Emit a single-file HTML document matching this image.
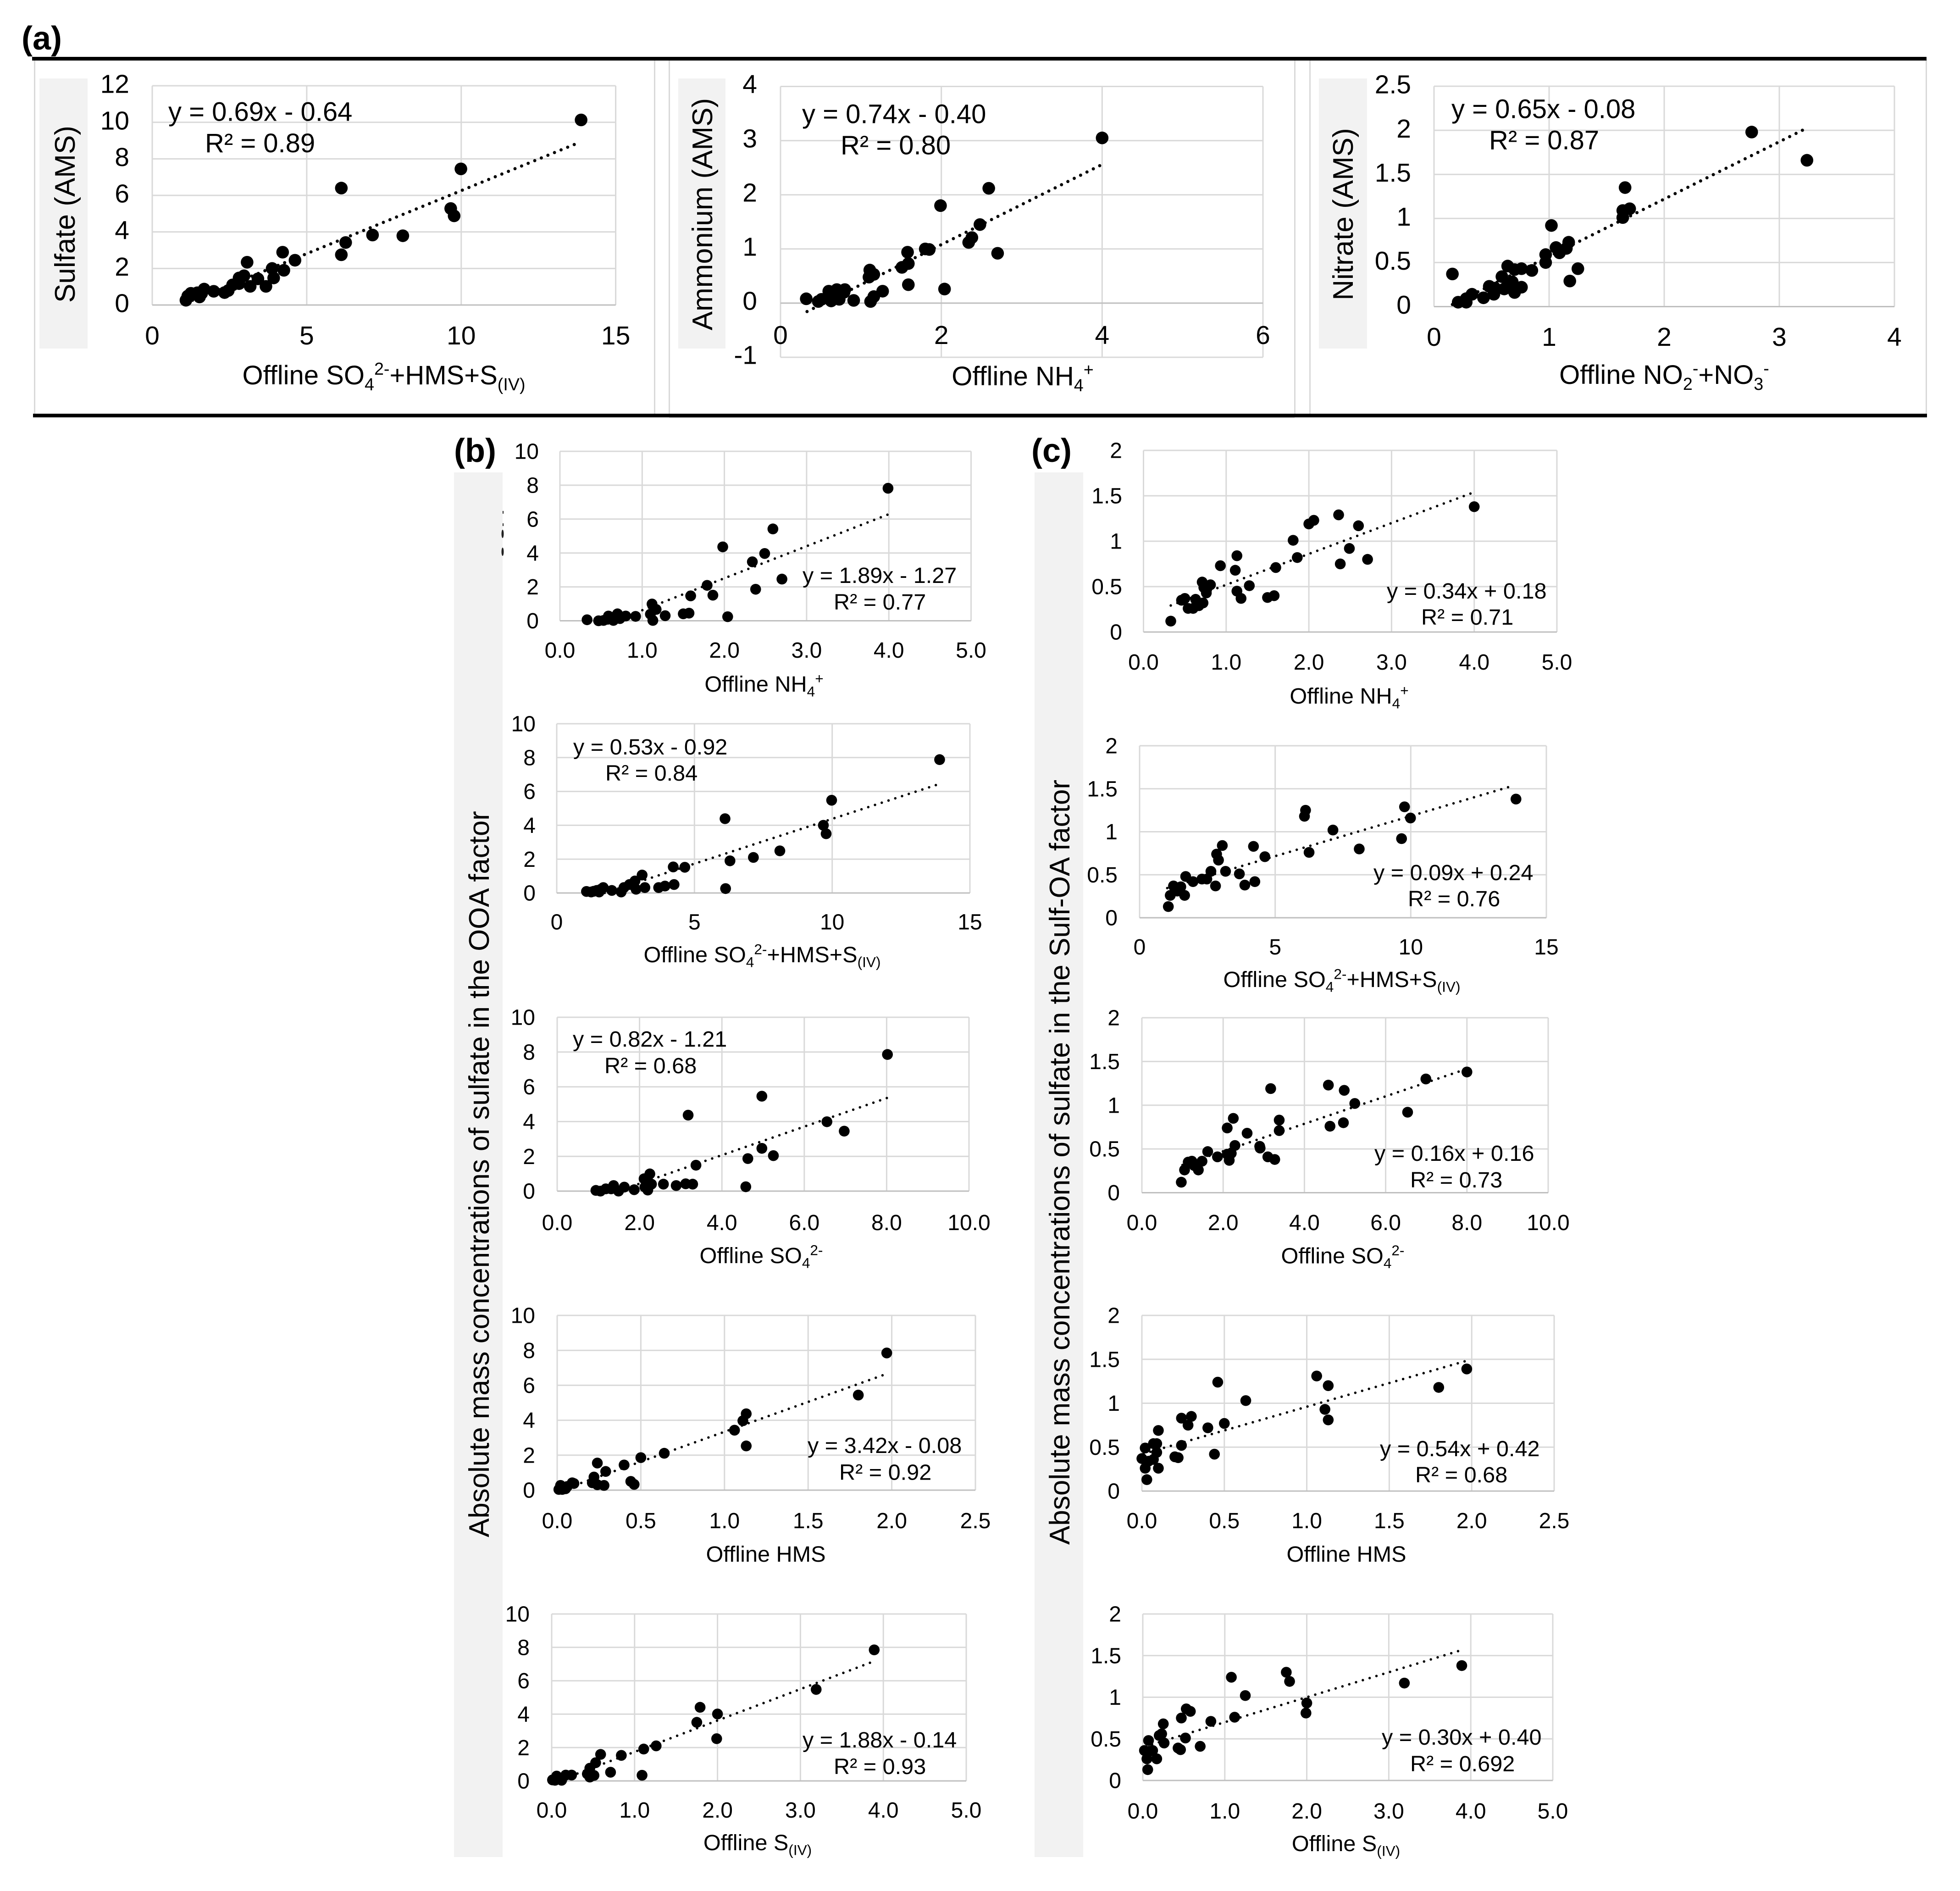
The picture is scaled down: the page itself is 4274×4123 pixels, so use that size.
<!DOCTYPE html>
<html lang="en">
<head>
<meta charset="utf-8">
<title>AMS vs offline scatter plots</title>
<style>
html,body{margin:0;padding:0;background:#fff;}
svg{display:block;}
text{font-family:"Liberation Sans",Arial,sans-serif;fill:#000;}
</style>
</head>
<body>
<svg id="figure" xmlns="http://www.w3.org/2000/svg" width="4274" height="4123" viewBox="0 0 4274 4123">
  <rect x="0" y="0" width="4274" height="4123" fill="#ffffff"/>
  <rect x="1459" y="904" width="1364" height="8" fill="#dcdcdc"/>
  <rect x="74" y="130" width="3" height="776" fill="#d9d9d9"/>
  <rect x="1426" y="130" width="3" height="776" fill="#d9d9d9"/>
  <rect x="1458" y="130" width="3" height="780" fill="#d9d9d9"/>
  <rect x="2822" y="130" width="3" height="780" fill="#d9d9d9"/>
  <rect x="2855" y="130" width="3" height="776" fill="#d9d9d9"/>
  <rect x="4199" y="130" width="3" height="776" fill="#d9d9d9"/>
  <rect x="70" y="124" width="4131" height="8" fill="#000000"/>
  <rect x="72" y="902" width="4130" height="8" fill="#000000"/>
  <text x="47" y="108" font-size="72" font-weight="700">(a)</text>
  <text x="990" y="1007" font-size="72" font-weight="700">(b)</text>
  <text x="2249" y="1007" font-size="72" font-weight="700">(c)</text>

  <rect x="86" y="171" width="105" height="589" fill="#f2f2f2"/>
  <rect x="1479" y="171" width="103" height="589" fill="#f2f2f2"/>
  <rect x="2876" y="171" width="105" height="589" fill="#f2f2f2"/>
  <rect x="990" y="1030" width="106" height="3019" fill="#f2f2f2"/>
  <rect x="2256" y="1030" width="106" height="3019" fill="#f2f2f2"/>

  <g fill="#222222">
    <rect x="1096" y="1114" width="2" height="6"/>
    <rect x="1096" y="1141" width="2" height="6"/>
    <ellipse cx="1096" cy="1164" rx="2.5" ry="9"/>
    <ellipse cx="1096" cy="1203" rx="2.5" ry="9"/>
  </g>

  <text transform="translate(163 467) rotate(-90)" text-anchor="middle" font-size="62">Sulfate (AMS)</text>
  <text transform="translate(1553 467) rotate(-90)" text-anchor="middle" font-size="62">Ammonium (AMS)</text>
  <text transform="translate(2950 467) rotate(-90)" text-anchor="middle" font-size="62">Nitrate (AMS)</text>
  <text transform="translate(1066 2560) rotate(-90)" text-anchor="middle" font-size="61.8">Absolute mass concentrations of sulfate in the OOA factor</text>
  <text transform="translate(2332 2534) rotate(-90)" text-anchor="middle" font-size="62">Absolute mass concentrations of sulfate in the Sulf-OA factor</text>
  <g id="charts"></g>
</svg>
<script>
/* ---------- DATA ---------- */
const a1X=[13.88,9.99,6.12,9.66,9.77,7.13,8.11,6.26,6.12,4.22,4.62,4.26,3.07,3.88,3.93,3.42,3.68,3.17,2.97,2.81,2.81,2.6,2.46,2.34,1.99,1.68,1.53,1.46,1.25,1.15,1.09,1.2,1.6];
const a1Y=[10.13,7.45,6.40,5.28,4.88,3.83,3.79,3.42,2.75,2.89,2.45,1.90,2.34,2.0,1.48,1.43,1.02,1.02,1.6,1.48,1.17,1.1,.79,.68,.75,.87,.44,.67,.64,.49,.26,.53,.64];
const a1Fit=[0.69,-0.64];
const a1Span=[1.09,13.7];
const a1XTicks=['0','5','10','15'];
const a1YTicks=['0','2','4','6','8','10','12'];

const a2X=[4.0,2.59,1.99,2.48,2.38,2.34,2.70,1.80,1.85,1.58,1.59,1.51,1.59,2.04,1.27,1.16,1.12,1.11,1.16,1.10,.91,.80,.70,.60,.32,.47,.63,.73,.68,.51,.6,.79];
const a2Y=[3.05,2.12,1.80,1.45,1.21,1.12,.92,1.0,.99,.94,.73,.66,.34,.26,.22,.12,.03,.61,.53,.48,.05,.25,.25,.22,.08,.03,.04,.07,.14,.07,.14,.2];
const a2Fit=[0.74,-0.40];
const a2Span=[0.33,3.99];
const a2XTicks=['0','2','4','6'];
const a2YTicks=['-1','0','1','2','3','4'];

const a3X=[2.76,3.24,1.66,1.70,1.64,1.64,1.02,1.17,1.15,1.06,1.09,.97,.97,1.25,1.18,.85,.76,.70,.64,.59,.68,.76,.70,.61,.64,.52,.48,.53,.43,.33,.28,.28,.21,.16];
const a3Y=[1.98,1.66,1.35,1.11,1.09,1.01,.92,.73,.66,.67,.61,.59,.50,.43,.29,.41,.43,.42,.46,.34,.28,.22,.16,.20,.23,.14,.23,.21,.10,.14,.09,.05,.05,.37];
const a3Fit=[0.65,-0.08];
const a3Span=[0.16,3.21];
const a3XTicks=['0','1','2','3','4'];
const a3YTicks=['0','0.5','1','1.5','2','2.5'];

const b1X=[3.99,2.59,1.98,2.49,2.34,2.70,2.38,1.79,1.86,1.59,2.04,1.57,1.50,1.28,1.12,1.17,1.10,1.13,.92,.80,.70,.59,.73,.65,.53,.47,.33,.58,.67,.73];
const b1Y=[7.82,5.42,4.36,3.97,3.48,2.46,1.86,2.09,1.51,1.47,.24,.45,.41,.30,.99,.67,.39,.02,.26,.28,.41,.28,.13,.02,.02,0,.06,.09,.24,.24];
const b1Fit=[1.89,-1.27];
const b1Span=[0.68,4.0];

const b2X=[13.9,9.98,6.11,9.68,9.78,8.1,7.14,6.29,6.13,4.65,4.23,4.26,3.93,3.7,3.1,2.84,3.2,2.88,2.64,2.44,2.34,2.0,1.69,1.54,1.45,1.25,1.08,1.34,1.6];
const b2Y=[7.88,5.48,4.39,4.0,3.5,2.49,2.1,1.9,.26,1.52,1.54,.5,.41,.32,1.06,.71,.32,.22,.5,.32,.06,.15,.32,.06,.15,.06,.09,.1,.22];
const b2Fit=[0.53,-0.92];
const b2Span=[1.74,13.87];

const b3X=[8.02,4.97,3.18,6.55,6.97,4.97,4.63,5.25,3.37,4.58,3.29,3.12,2.89,2.58,2.29,2.25,2.11,2.2,2.13,1.87,1.63,1.49,1.37,1.31,1.18,1.05,.94];
const b3Y=[7.86,5.46,4.37,3.99,3.45,2.46,1.87,2.04,1.49,.25,.40,.42,.32,.40,.40,.99,.71,.06,.23,.08,.23,0,.32,.13,.13,0,.04];
const b3Fit=[0.82,-1.21];
const b3Span=[1.48,8.03];

const b4X=[1.97,1.80,1.13,1.11,1.06,1.13,.64,.50,.40,.24,.29,.22,.21,.24,.28,.44,.46,.10,.09,.06,.02,.01,.03,.05];
const b4Y=[7.85,5.44,4.37,3.97,3.43,2.53,2.11,1.86,1.44,1.55,1.07,.75,.42,.31,.27,.5,.33,.38,.42,.21,.27,.04,.04,.08];
const b4Fit=[3.42,-0.08];
const b4Span=[0.024,1.97];

const b5X=[3.89,3.19,1.79,2.0,1.75,1.99,1.26,1.11,.84,.59,.53,.46,.43,.46,.51,.71,1.09,.24,.17,.12,.06,.01,.04];
const b5Y=[7.85,5.48,4.41,4.01,3.51,2.53,2.10,1.91,1.53,1.59,1.09,.76,.42,.23,.33,.52,.34,.35,.35,.04,.29,.06,.04];
const b5Fit=[1.88,-0.14];
const b5Span=[0.07,3.86];

const c1X=[4.0,2.36,2.06,2.0,2.6,1.81,2.49,1.86,1.13,2.71,2.38,.93,1.11,1.60,1.28,.71,.81,.76,.73,1.13,1.18,1.58,1.50,.72,.67,.63,.60,.54,.50,.46,.33];
const c1Y=[1.38,1.29,1.23,1.19,1.17,1.01,.92,.82,.84,.80,.75,.73,.68,.71,.51,.55,.52,.43,.49,.45,.37,.40,.38,.32,.29,.36,.26,.26,.37,.35,.12];
const c1Fit=[0.34,0.18];
const c1Span=[0.33,4.0];

const c2X=[13.88,9.77,6.12,6.08,9.99,7.13,9.66,8.1,6.25,3.05,4.2,2.84,2.91,4.62,2.63,3.17,3.68,1.7,2.3,2.48,1.97,4.25,3.88,2.8,1.25,1.52,1.39,1.66,1.13,1.06];
const c2Y=[1.38,1.29,1.25,1.18,1.16,1.02,.92,.80,.76,.84,.83,.74,.67,.71,.54,.54,.51,.48,.45,.45,.42,.42,.38,.37,.37,.36,.31,.26,.26,.13];
const c2Fit=[0.0933,0.25];
const c2Span=[1.02,13.72];

const c3X=[8.0,6.99,4.59,4.98,3.17,5.24,6.54,4.63,4.96,2.25,3.38,2.1,3.38,2.59,2.29,2.9,2.91,1.62,1.86,2.2,2.1,2.15,3.1,3.27,1.48,1.23,1.14,1.29,1.39,1.05,.97];
const c3Y=[1.38,1.30,1.23,1.17,1.19,1.02,.92,.76,.80,.85,.83,.74,.71,.68,.54,.53,.51,.47,.41,.45,.44,.37,.41,.38,.36,.36,.35,.31,.26,.26,.12];
const c3Fit=[0.157,0.16];
const c3Span=[1.0,8.0];

const c4X=[1.97,1.80,1.13,1.06,.46,.63,1.11,1.13,.30,.24,.28,.50,.40,.10,.09,.07,.24,.02,.09,.44,.20,.22,0,.07,.04,.02,.10,.03];
const c4Y=[1.39,1.18,1.20,1.31,1.24,1.03,.93,.81,.85,.83,.75,.77,.72,.69,.54,.54,.52,.49,.44,.42,.39,.38,.37,.36,.34,.26,.26,.13];
const c4Fit=[0.54,0.42];
const c4Span=[0.01,1.97];

const c5X=[3.89,3.19,1.75,1.79,1.08,1.25,2.0,1.99,.53,.58,.47,.25,.83,1.12,.23,.20,.52,.26,.07,.70,.43,.46,.12,.02,.08,.17,.05,.06];
const c5Y=[1.38,1.17,1.30,1.19,1.24,1.02,.93,.81,.86,.83,.75,.68,.71,.76,.56,.54,.51,.45,.48,.41,.39,.37,.36,.36,.35,.26,.26,.13];
const c5Fit=[0.30,0.40];
const c5Span=[0.03,3.86];

const yTicksOoa=['0','2','4','6','8','10'];
const yTicksSulf=['0','0.5','1','1.5','2'];
const xTicks5=['0.0','1.0','2.0','3.0','4.0','5.0'];
const xTicks15=['0','5','10','15'];
const xTicks10=['0.0','2.0','4.0','6.0','8.0','10.0'];
const xTicks25=['0.0','0.5','1.0','1.5','2.0','2.5'];

const labelTotal=[['Offline SO',0],['4',-1],['2-',1],['+HMS+S',0],['(IV)',-1]];
const labelNh4=[['Offline NH',0],['4',-1],['+',1]];
const labelNox=[['Offline NO',0],['2',-1],['-',1],['+NO',0],['3',-1],['-',1]];
const labelSo4=[['Offline SO',0],['4',-1],['2-',1]];
const labelHms=[['Offline HMS',0]];
const labelSiv=[['Offline S',0],['(IV)',-1]];

/* ---------- LAYOUT: frames and text anchors ---------- */
const panels=[
 {x:a1X,y:a1Y,fit:a1Fit,span:a1Span,xt:a1XTicks,yt:a1YTicks,xl:labelTotal,eq:'y = 0.69x - 0.64',r2:'R² = 0.89',f:[332,1342.6,187,665],fs:57,es:58,lf:58,r:13.8,dot:7,gap:15.5,yr:282,yo:-4,xb:751,lx:837,lb:838,e:[367,263.6],q:[447,332]},
 {x:a2X,y:a2Y,fit:a2Fit,span:a2Span,xt:a2XTicks,yt:a2YTicks,xl:labelNh4,eq:'y = 0.74x - 0.40',r2:'R² = 0.80',f:[1702,2754,188.5,779],fs:57,es:58,lf:58,r:13.8,dot:7,gap:15.5,yr:1651,yo:-5,xb:750,lx:2230,lb:840,e:[1749,268.5],q:[1833,336.4]},
 {x:a3X,y:a3Y,fit:a3Fit,span:a3Span,xt:a3XTicks,yt:a3YTicks,xl:labelNox,eq:'y = 0.65x - 0.08',r2:'R² = 0.87',f:[3127,4131,188,668.5],fs:57,es:58,lf:58,r:13.8,dot:7,gap:15.5,yr:3077,yo:-4,xb:754,lx:3629,lb:837,e:[3165,257.6],q:[3247,325.5]},

 {x:b1X,y:b1Y,fit:b1Fit,span:b1Span,xt:xTicks5,yt:yTicksOoa,xl:labelNh4,eq:'y = 1.89x - 1.27',r2:'R² = 0.77',f:[1221,2117.5,984,1353.5],fs:48,es:48.6,lf:48.6,r:11.8,dot:5.5,gap:15.5,yr:1175,xb:1434,lx:1666,lb:1508,e:[1750,1271],q:[1818,1329]},
 {x:b2X,y:b2Y,fit:b2Fit,span:b2Span,xt:xTicks15,yt:yTicksOoa,xl:labelTotal,eq:'y = 0.53x - 0.92',r2:'R² = 0.84',f:[1214,2115,1578,1947],fs:48,es:48.6,lf:48.6,r:11.8,dot:5.5,gap:15.5,yr:1168,xb:2026.5,lx:1662,lb:2098,e:[1250,1645],q:[1320,1702]},
 {x:b3X,y:b3Y,fit:b3Fit,span:b3Span,xt:xTicks10,yt:yTicksOoa,xl:labelSo4,eq:'y = 0.82x - 1.21',r2:'R² = 0.68',f:[1215,2113,2218,2597],fs:48,es:48.6,lf:48.6,r:11.8,dot:5.5,gap:15.5,yr:1167,xb:2682,lx:1660,lb:2754,e:[1249,2282],q:[1318,2340]},
 {x:b4X,y:b4Y,fit:b4Fit,span:b4Span,xt:xTicks25,yt:yTicksOoa,xl:labelHms,eq:'y = 3.42x - 0.08',r2:'R² = 0.92',f:[1215,2127,2868,3249],fs:48,es:48.6,lf:48.6,r:11.8,dot:5.5,gap:15.5,yr:1167,xb:3332,lx:1670,lb:3405,e:[1761,3168],q:[1830,3226.5]},
 {x:b5X,y:b5Y,fit:b5Fit,span:b5Span,xt:xTicks5,yt:yTicksOoa,xl:labelSiv,eq:'y = 1.88x - 0.14',r2:'R² = 0.93',f:[1203,2107,3519,3883],fs:48,es:48.6,lf:48.6,r:11.8,dot:5.5,gap:15.5,yr:1155,xb:3963,lx:1652,lb:4034,e:[1750,3810],q:[1818,3868]},

 {x:c1X,y:c1Y,fit:c1Fit,span:c1Span,xt:xTicks5,yt:yTicksSulf,xl:labelNh4,eq:'y = 0.34x + 0.18',r2:'R² = 0.71',f:[2493.5,3395,982,1378],fs:48,es:48.6,lf:48.6,r:11.8,dot:5.5,gap:15.5,yr:2447,xb:1460,lx:2942,lb:1534,e:[3024,1305],q:[3099,1362]},
 {x:c2X,y:c2Y,fit:c2Fit,span:c2Span,xt:xTicks15,yt:yTicksSulf,xl:labelTotal,eq:'y = 0.09x + 0.24',r2:'R² = 0.76',f:[2485,3372,1626,2001],fs:48,es:48.6,lf:48.6,r:11.8,dot:5.5,gap:15.5,yr:2437,xb:2081,lx:2926,lb:2152,e:[2995,1919],q:[3070,1976]},
 {x:c3X,y:c3Y,fit:c3Fit,span:c3Span,xt:xTicks10,yt:yTicksSulf,xl:labelSo4,eq:'y = 0.16x + 0.16',r2:'R² = 0.73',f:[2490,3376,2219,2600.5],fs:48,es:48.6,lf:48.6,r:11.8,dot:5.5,gap:15.5,yr:2442,xb:2682,lx:2928,lb:2754.5,e:[2997,2531],q:[3075,2589]},
 {x:c4X,y:c4Y,fit:c4Fit,span:c4Span,xt:xTicks25,yt:yTicksSulf,xl:labelHms,eq:'y = 0.54x + 0.42',r2:'R² = 0.68',f:[2490,3389,2868,3251],fs:48,es:48.6,lf:48.6,r:11.8,dot:5.5,gap:15.5,yr:2442,xb:3332,lx:2936,lb:3405,e:[3009,3175],q:[3086,3232]},
 {x:c5X,y:c5Y,fit:c5Fit,span:c5Span,xt:xTicks5,yt:yTicksSulf,xl:labelSiv,eq:'y = 0.30x + 0.40',r2:'R² = 0.692',f:[2492,3386,3519,3882],fs:48,es:48.6,lf:48.6,r:11.8,dot:5.5,gap:15.5,yr:2445,xb:3965,lx:2935,lb:4036,e:[3013,3804],q:[3075,3862]}
];

const NS='http://www.w3.org/2000/svg';
const root=document.getElementById('charts');
function make(tag,parent){
  const n=document.createElementNS(NS,tag);
  parent.appendChild(n);
  return n;
}
function put(n,k,v){n.setAttribute(k,v);}

function drawPanel(p){
  const xNums=p.xt.map(Number), yNums=p.yt.map(Number);
  const xMin=Math.min(...xNums), xMax=Math.max(...xNums);
  const yMin=Math.min(...yNums), yMax=Math.max(...yNums);
  const sx=v=>p.f[0]+(v-xMin)/(xMax-xMin)*(p.f[1]-p.f[0]);
  const sy=v=>p.f[3]-(v-yMin)/(yMax-yMin)*(p.f[3]-p.f[2]);
  const g=make('g',root);
  
  

  p.xt.forEach(function(label){
    const v=Number(label);
    const grid=make('line',g);
    
    
    put(grid,'x1',sx(v));put(grid,'x2',sx(v));put(grid,'y1',p.f[2]);put(grid,'y2',p.f[3]);
    put(grid,'stroke','#d9d9d9');put(grid,'stroke-width',3);
    const t=make('text',g);
    
    
    put(t,'x',sx(v));put(t,'y',p.xb);put(t,'text-anchor','middle');put(t,'font-size',p.fs);
    t.textContent=label;
  });
  p.yt.forEach(function(label){
    const v=Number(label);
    const grid=make('line',g);
    
    
    put(grid,'x1',p.f[0]);put(grid,'x2',p.f[1]);put(grid,'y1',sy(v));put(grid,'y2',sy(v));
    put(grid,'stroke',v===0?'#bfbfbf':'#d9d9d9');put(grid,'stroke-width',3);
    const t=make('text',g);
    
    
    put(t,'x',p.yr);put(t,'y',sy(v)+p.fs*0.345+(p.yo||0));put(t,'text-anchor','end');put(t,'font-size',p.fs);
    t.textContent=label;
  });

  const trend=make('line',g);
  
  
  put(trend,'x1',sx(p.span[0]));put(trend,'y1',sy(p.fit[0]*p.span[0]+p.fit[1]));
  put(trend,'x2',sx(p.span[1]));put(trend,'y2',sy(p.fit[0]*p.span[1]+p.fit[1]));
  put(trend,'stroke','#000');put(trend,'stroke-width',p.dot);put(trend,'stroke-linecap','round');
  put(trend,'stroke-dasharray','0 '+p.gap);

  p.x.forEach(function(xv,i){
    const c=make('circle',g);
    
    
    put(c,'cx',sx(xv));put(c,'cy',sy(p.y[i]));put(c,'r',p.r);put(c,'fill','#000');
  });

  const eq=make('text',g);
  
  
  put(eq,'x',p.e[0]);put(eq,'y',p.e[1]);put(eq,'font-size',p.es);
  eq.textContent=p.eq;
  const r2=make('text',g);
  
  
  put(r2,'x',p.q[0]);put(r2,'y',p.q[1]);put(r2,'font-size',p.es);
  r2.textContent=p.r2;

  const xl=make('text',g);
  
  
  put(xl,'x',p.lx);put(xl,'y',p.lb);put(xl,'text-anchor','middle');put(xl,'font-size',p.lf);
  let level=0;
  p.xl.forEach(function(part){
    const s=make('tspan',xl);
    const target=part[1]===-1?0.22*p.lf:(part[1]===1?-0.36*p.lf:0);
    put(s,'dy',target-level);
    level=target;
    if(part[1]!==0){put(s,'font-size',p.lf*0.65);}
    s.textContent=part[0];
  });
}
panels.forEach(drawPanel);
</script>
</body>
</html>
